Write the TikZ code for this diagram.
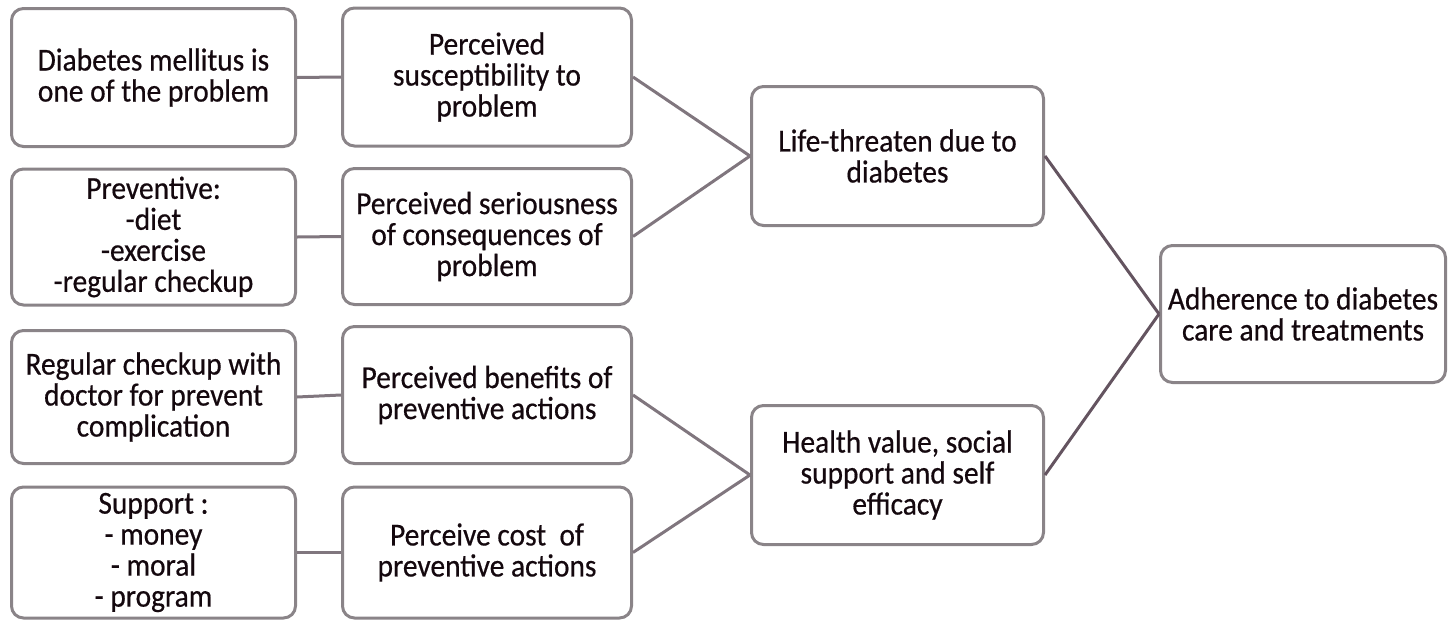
\documentclass[tikz,border=0pt]{standalone}
\usepackage{fontspec}
\setmainfont{Carlito}[FakeStretch=0.92,FakeBold=0.5]
\definecolor{boxgray}{RGB}{138,132,136}
\definecolor{linkgray}{RGB}{128,118,126}
\definecolor{linkdark}{RGB}{100,84,96}
\definecolor{inkcol}{RGB}{20,8,14}
\begin{document}
\begin{tikzpicture}[x=1pt,y=-1pt,
  box/.style={draw=boxgray, line width=3pt, rounded corners=12pt, fill=white,
    align=center, inner sep=0pt, text=inkcol,
    font=\fontsize{32}{31}\selectfont},
  leftbox/.style={box, minimum width=284pt},
  midbox/.style={box, minimum width=289pt},
  hubbox/.style={box, minimum width=292pt, minimum height=139pt},
  link/.style={draw=linkgray, line width=3pt},
  darklink/.style={draw=linkdark, line width=3pt}]
\useasboundingbox (0,0) rectangle (1449,622);

% first column: concrete factors
\node[leftbox, minimum height=138pt] (c1) at (153.5,77.5) {Diabetes mellitus is\\one of the problem};
\node[leftbox, minimum height=136pt] (c2) at (153.5,237) {Preventive:\\-diet\\-exercise\\-regular checkup};
\node[leftbox, minimum height=133pt] (c3) at (153.5,397) {Regular checkup with\\doctor for prevent\\complication};
\node[leftbox, minimum height=131pt] (c4) at (153.5,552.5) {Support :\\- money\\- moral\\- program};

% second column: perceptions
\node[midbox, minimum height=138pt] (p1) at (487,77) {Perceived\\susceptibility to\\problem};
\node[midbox, minimum height=136pt] (p2) at (487,236.5) {Perceived seriousness\\of consequences of\\problem};
\node[midbox, minimum height=137pt] (p3) at (487,395) {Perceived benefits of\\preventive actions};
\node[midbox, minimum height=131pt] (p4) at (487,552.5) {Perceive cost\ \ of\\preventive actions};

% third column: mediating factors
\node[hubbox] (life) at (897.5,156) {Life-threaten due to\\diabetes};
\node[hubbox] (health) at (897.5,475) {Health value, social\\support and self\\efficacy};

% outcome
\node[box, minimum width=285pt, minimum height=137pt] (adh) at (1303,314) {Adherence to diabetes\\care and treatments};

% connectors
\draw[link] (c1.east) -- (p1.west);
\draw[link] (c2.east) -- (p2.west);
\draw[link] (c3.east) -- (p3.west);
\draw[link] (c4.east) -- (p4.west);
\draw[link] (p1.east) -- (life.west);
\draw[link] (p2.east) -- (life.west);
\draw[link] (p3.east) -- (health.west);
\draw[link] (p4.east) -- (health.west);
\draw[darklink] (life.east) -- (adh.west);
\draw[darklink] (health.east) -- (adh.west);
\end{tikzpicture}
\end{document}
